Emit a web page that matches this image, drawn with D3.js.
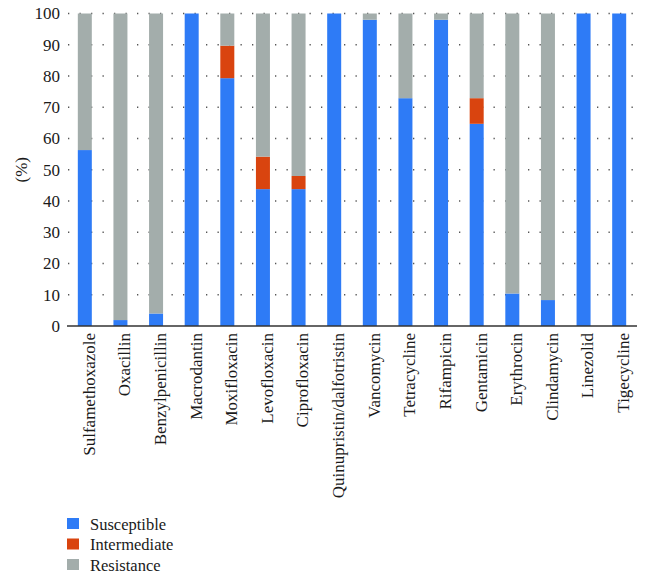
<!DOCTYPE html>
<html>
<head>
<meta charset="utf-8">
<script src="https://cdn.jsdelivr.net/npm/d3@7"></script>
<style>
  html, body { margin: 0; padding: 0; background: #fff; }
  svg text { font-family: "Liberation Serif", "Times New Roman", "DejaVu Serif", serif !important; fill: #1a1a1a; }
</style>
</head>
<body>
<svg id="chart" width="648" height="581"></svg>
<script>
const categories = ["Sulfamethoxazole", "Oxacillin", "Benzylpenicillin", "Macrodantin", "Moxifloxacin",
  "Levofloxacin", "Ciprofloxacin", "Quinupristin/dalfotristin", "Vancomycin", "Tetracycline",
  "Rifampicin", "Gentamicin", "Erythrocin", "Clindamycin", "Linezolid", "Tigecycline"];
const susceptible  = [56.3, 1.9, 4.0, 100, 79.3, 43.8, 43.8, 100, 98.0, 72.9, 98.0, 64.7, 10.4, 8.3, 100, 100];
const intermediate = [0, 0, 0, 0, 10.4, 10.4, 4.2, 0, 0, 0, 0, 8.2, 0, 0, 0, 0];
const resistance   = [43.7, 98.1, 96.0, 0, 10.3, 45.8, 52.0, 0, 2.0, 27.1, 2.0, 27.1, 89.6, 91.7, 0, 0];
const seriesNames  = ["Susceptible", "Intermediate", "Resistance"];
const seriesColors = ["#2e7bf6", "#d9440f", "#a3adab"];
const yTicks = [0, 10, 20, 30, 40, 50, 60, 70, 80, 90, 100];
const yLabel = "(%)";

const svg = d3.select("#chart");
const x0 = 67, x1 = 637, yBottom = 326, yTop = 13.5;
const fs = 17, legendFs = 16.5;

const x = d3.scaleBand().domain(categories).range([x0, x1]).paddingInner(0.607).paddingOuter(0.3035);
const y = d3.scaleLinear().domain([0, 100]).range([yBottom, yTop]);

// dotted gridlines
svg.append("g").selectAll("line").data(yTicks.filter(d => d > 0)).join("line")
  .attr("x1", x0 + 1).attr("x2", x1).attr("y1", d => y(d)).attr("y2", d => y(d))
  .attr("stroke", "#555").attr("stroke-width", 1.3).attr("stroke-dasharray", "1.3,10.2");

// stacked data
const rows = categories.map((c, i) => ({ cat: c, Susceptible: susceptible[i], Intermediate: intermediate[i], Resistance: resistance[i] }));
const stack = d3.stack().keys(seriesNames)(rows);
const color = d3.scaleOrdinal().domain(seriesNames).range(seriesColors);

svg.append("g").selectAll("g").data(stack).join("g")
  .attr("fill", d => color(d.key))
  .selectAll("rect").data(d => d).join("rect")
  .attr("x", d => x(d.data.cat))
  .attr("width", x.bandwidth())
  .attr("y", d => y(d[1]))
  .attr("height", d => Math.max(0, y(d[0]) - y(d[1])));

// y axis labels
const yAxis = d3.axisLeft(y).tickValues(yTicks).tickSize(0).tickPadding(0).tickFormat(d3.format("d"));
const gy = svg.append("g").attr("transform", `translate(${x0 - 7},0)`).call(yAxis);
gy.attr("font-family", null).attr("font-size", null);
gy.select(".domain").remove();
gy.selectAll("text").style("font-size", fs + "px").attr("fill", "#1a1a1a");

// x axis baseline
svg.append("line").attr("x1", x0).attr("x2", x1).attr("y1", yBottom).attr("y2", yBottom)
  .attr("stroke", "#333").attr("stroke-width", 1.5);

// x axis labels
const xAxis = d3.axisBottom(x).tickSize(0).tickPadding(0);
const gx = svg.append("g").attr("transform", `translate(0,${yBottom})`).call(xAxis);
gx.attr("font-family", null).attr("font-size", null);
gx.select(".domain").remove();
gx.selectAll("text")
  .style("font-size", fs + "px")
  .attr("fill", "#1a1a1a")
  .attr("text-anchor", "end")
  .attr("transform", "translate(0,7) rotate(-90)")
  .attr("x", 0).attr("y", 0).attr("dy", "0.58em");

// y label
svg.append("text").attr("transform", `translate(27,${(y(0) + y(100)) / 2}) rotate(-90)`)
  .attr("text-anchor", "middle").style("font-size", fs + "px").text(yLabel);

// legend
const lg = svg.append("g").attr("transform", "translate(67,524)");
const items = lg.selectAll("g").data(seriesNames).join("g")
  .attr("transform", (d, i) => `translate(0,${i * 20.5})`);
items.append("rect").attr("x", 0).attr("y", -6).attr("width", 12).attr("height", 11).attr("fill", d => color(d));
items.append("text").attr("x", 23).attr("y", 5.5).style("font-size", legendFs + "px").text(d => d);
</script>
</body>
</html>
